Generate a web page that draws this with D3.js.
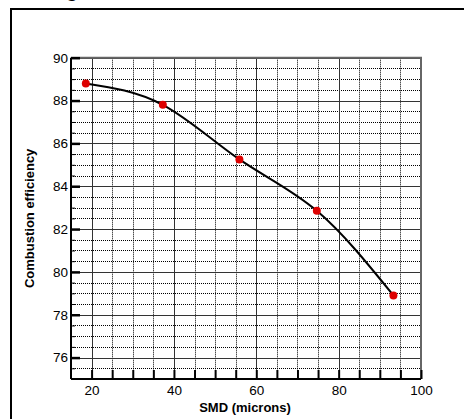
<!DOCTYPE html>
<html>
<head>
<meta charset="utf-8">
<script src="https://cdn.jsdelivr.net/npm/d3@7"></script>
<style>
  body { margin: 0; background: #fff; }
  text { font-family: "Liberation Sans", Arial, sans-serif; }
</style>
</head>
<body>
<div id="chart"></div>
<script>
var w = 464;
var h = 419;

// values
var smd = [18.6, 37.3, 55.9, 74.7, 93.3];
var efficiency = [88.8, 87.8, 85.25, 82.85, 78.9];
var xTicks = [20, 40, 60, 80, 100];
var yTicks = [76, 78, 80, 82, 84, 86, 88, 90];

var plotLeft = 71, plotRight = 421, plotTop = 57.7, plotBottom = 379;

var x = d3.scaleLinear().domain([15, 100]).range([plotLeft, plotRight]);
var y = d3.scaleLinear().domain([75, 90]).range([plotBottom, plotTop]);

var svg = d3.select("#chart")
            .append("svg")
                .attr("width", w)
                .attr("height", h);

// outer frame, runs off the page right and bottom
svg.append("rect")
    .attr("x", 11)
    .attr("y", 9)
    .attr("width", 500)
    .attr("height", 500)
    .attr("fill", "none")
    .attr("stroke", "#000")
    .attr("stroke-width", 2);

// cut-off glyph at the very top
svg.append("text")
    .attr("x", 66)
    .attr("y", -3)
    .attr("font-size", 20)
    .attr("font-weight", "bold")
    .text("g");

// minor grid (dotted)
var xMinor = d3.range(20, 100, 5).filter(function(v) { return v % 20 != 0; });
var yMinor = d3.range(75.5, 90, 0.5).filter(function(v) { return v % 2 != 0; });

svg.selectAll("line.xminor")
    .data(xMinor)
    .enter()
        .append("line")
        .attr("x1", function(d) { return Math.round(x(d)) + 0.5; })
        .attr("x2", function(d) { return Math.round(x(d)) + 0.5; })
        .attr("y1", plotTop)
        .attr("y2", plotBottom)
        .attr("stroke", "#000")
        .attr("stroke-dasharray", "1,1");

svg.selectAll("line.yminor")
    .data(yMinor)
    .enter()
        .append("line")
        .attr("x1", plotLeft)
        .attr("x2", plotRight)
        .attr("y1", function(d) { return Math.round(y(d)) + 0.5; })
        .attr("y2", function(d) { return Math.round(y(d)) + 0.5; })
        .attr("stroke", "#000")
        .attr("stroke-dasharray", "1,1");

// major grid
svg.selectAll("line.xmajor")
    .data(xTicks)
    .enter()
        .append("line")
        .attr("x1", function(d) { return Math.round(x(d)) + 0.5; })
        .attr("x2", function(d) { return Math.round(x(d)) + 0.5; })
        .attr("y1", plotTop)
        .attr("y2", plotBottom)
        .attr("stroke", "#333");

svg.selectAll("line.ymajor")
    .data(yTicks)
    .enter()
        .append("line")
        .attr("x1", plotLeft)
        .attr("x2", plotRight)
        .attr("y1", function(d) { return Math.round(y(d)) + 0.5; })
        .attr("y2", function(d) { return Math.round(y(d)) + 0.5; })
        .attr("stroke", "#333");

// top and right edges
svg.append("path")
    .attr("d", "M" + plotLeft + "," + plotTop + "H" + plotRight + "V" + plotBottom)
    .attr("fill", "none")
    .attr("stroke", "#666")
    .attr("stroke-width", 2);

// axes
var xAxis = d3.axisBottom(x)
    .tickValues(d3.range(20, 101, 5))
    .tickSize(-9)
    .tickFormat(function(d) { return d % 20 == 0 ? d : ""; });

var yAxis = d3.axisLeft(y)
    .tickValues(d3.range(75.5, 90.1, 0.5))
    .tickSize(-5)
    .tickFormat(function(d) { return d % 2 == 0 ? d : ""; });

var gx = svg.append("g")
    .attr("transform", "translate(0," + plotBottom + ")")
    .call(xAxis);
gx.select(".domain").attr("stroke-width", 2).attr("d", "M" + plotLeft + ",0H" + plotRight);
gx.selectAll(".tick line").attr("stroke-width", 2);
gx.selectAll(".tick text")
    .attr("font-size", 13.5)
    .attr("font-family", "Liberation Sans, Arial, sans-serif")
    .attr("y", 6);

var gy = svg.append("g")
    .attr("transform", "translate(" + plotLeft + ",0)")
    .call(yAxis);
gy.select(".domain").attr("stroke-width", 2).attr("d", "M0," + plotBottom + "V" + plotTop);
gy.selectAll(".tick line")
    .attr("stroke-width", function(d) { return d % 2 == 0 ? 2.5 : 1; })
    .attr("x2", function(d) { return d % 2 == 0 ? 9 : 4; });
gy.selectAll(".tick text")
    .attr("font-size", 13.5)
    .attr("font-family", "Liberation Sans, Arial, sans-serif")
    .attr("x", -3);

// axis titles
svg.append("text")
    .attr("x", 245)
    .attr("y", 412)
    .attr("text-anchor", "middle")
    .attr("font-size", 13)
    .attr("font-weight", "bold")
    .text("SMD (microns)");

svg.append("text")
    .attr("transform", "translate(34," + (plotTop + plotBottom) / 2 + ") rotate(-90)")
    .attr("text-anchor", "middle")
    .attr("font-size", 13)
    .attr("font-weight", "bold")
    .text("Combustion efficiency");

// fitted curve and points
var points = smd.map(function(d, i) { return [d, efficiency[i]]; });

var line = d3.line()
    .x(function(d) { return x(d[0]); })
    .y(function(d) { return y(d[1]); })
    .curve(d3.curveNatural);

svg.append("path")
    .datum(points)
    .attr("d", line)
    .attr("fill", "none")
    .attr("stroke", "#000")
    .attr("stroke-width", 2);

svg.selectAll("circle")
    .data(points)
    .enter()
        .append("circle")
        .attr("cx", function(d) { return x(d[0]); })
        .attr("cy", function(d) { return y(d[1]); })
        .attr("r", 4)
        .attr("fill", "#dd0000");
</script>
</body>
</html>
